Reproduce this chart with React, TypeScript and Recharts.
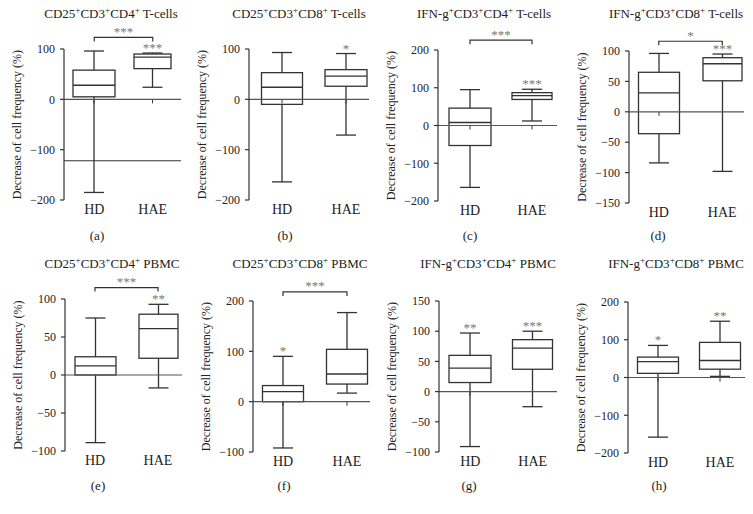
import React from 'react';
import { ComposedChart, Bar, XAxis, YAxis, ReferenceLine } from 'recharts';

const FONT = "'Liberation Serif', 'Times New Roman', serif";

// ---------------- data ----------------
const categories = ['HD', 'HAE'];

const titles = [
  'CD25⁺CD3⁺CD4⁺ T-cells',
  'CD25⁺CD3⁺CD8⁺ T-cells',
  'IFN-g⁺CD3⁺CD4⁺ T-cells',
  'IFN-g⁺CD3⁺CD8⁺ T-cells',
  'CD25⁺CD3⁺CD4⁺ PBMC',
  'CD25⁺CD3⁺CD8⁺ PBMC',
  'IFN-g⁺CD3⁺CD4⁺ PBMC',
  'IFN-g⁺CD3⁺CD8⁺ PBMC',
];

const panelLetters = ['(a)', '(b)', '(c)', '(d)', '(e)', '(f)', '(g)', '(h)'];
const yAxisTitle = 'Decrease of cell frequency (%)';

const yTicks = [
  [-200, -100, 0, 100],
  [-200, -100, 0, 100],
  [-200, -100, 0, 100, 200],
  [-150, -100, -50, 0, 50, 100],
  [-100, -50, 0, 50, 100],
  [-100, 0, 100, 200],
  [-100, -50, 0, 50, 100, 150],
  [-200, -100, 0, 100, 200],
];

// [min, q1, median, q3, max]
const hdBoxes = [
  [-185, 5, 28, 58, 96],
  [-164, -10, 24, 53, 93],
  [-164, -53, 8, 46, 95],
  [-84, -36, 31, 65, 96],
  [-89, 0, 12, 24, 75],
  [-92, 0, 20, 32, 90],
  [-91, 15, 39, 60, 97],
  [-158, 11, 42, 54, 85],
];

const haeBoxes = [
  [24, 61, 84, 90, 92],
  [-71, 26, 46, 59, 91],
  [12, 69, 79, 87, 96],
  [-98, 51, 79, 89, 95],
  [-17, 22, 61, 80, 93],
  [17, 35, 55, 104, 177],
  [-25, 37, 72, 86, 100],
  [3, 22, 45, 93, 149],
];

const boxStars = [
  ['', '***'],
  ['', '*'],
  ['', '***'],
  ['', '***'],
  ['', '**'],
  ['*', ''],
  ['**', '***'],
  ['*', '**'],
];

const bracketLevels = [123, null, 226, 116, 115, 218, null, null];
const bracketStars = ['***', '', '***', '*', '***', '***', '', ''];
const extraLines = [[-122], [], [], [], [], [], [], []];

// ---------------- layout (style only) ----------------
const layout = [
  { rowTop: 0, axisX: 64, top: 49, bottom: 200, right: 181, padL: 1, padR: -1, boxW: [42, 37], titleX: 111, letterX: 97 },
  { rowTop: 0, axisX: 249, top: 49, bottom: 200, right: 369, padL: 1, padR: -9, boxW: [41, 42], titleX: 299, letterX: 285 },
  { rowTop: 0, axisX: 438, top: 50, bottom: 201, right: 557, padL: 1, padR: -6, boxW: [42, 40], titleX: 484, letterX: 470 },
  { rowTop: 0, axisX: 629, top: 51, bottom: 203, right: 744, padL: -2, padR: -10, boxW: [41, 39], titleX: 676, letterX: 658 },
  { rowTop: 250, axisX: 65, top: 299, bottom: 451, right: 182, padL: -1.5, padR: -7.5, boxW: [41, 39], titleX: 112, letterX: 98 },
  { rowTop: 250, axisX: 253, top: 301, bottom: 452, right: 370, padL: -2, padR: -9, boxW: [41, 41], titleX: 300, letterX: 284 },
  { rowTop: 250, axisX: 439, top: 301, bottom: 452, right: 557, padL: 0, padR: -7, boxW: [42, 40], titleX: 488, letterX: 469 },
  { rowTop: 250, axisX: 628, top: 302, bottom: 453, right: 745, padL: -1, padR: -6, boxW: [41, 41], titleX: 676, letterX: 659 },
];

const LINE = '#333';
const STAR = '#777';

const fmt = (v: number) => (v < 0 ? '\u2212' + Math.abs(v) : String(v));

function BoxShape(props: any) {
  const { x, y, width, height, payload, boxW } = props;
  if (x == null || y == null || !payload) return null;
  const ppu = height / (payload.q3 - payload.q1);
  const py = (v: number) => y + (payload.q3 - v) * ppu;
  const cx = x + width / 2;
  const hw = boxW / 2;
  const cap = 10;
  const top = py(payload.max);
  const bot = py(payload.min);
  const zero = py(0);
  const sw = 1.3;
  return (
    <g>
      <line x1={cx} x2={cx} y1={top} y2={y} stroke={LINE} strokeWidth={sw} />
      <line x1={cx} x2={cx} y1={y + height} y2={bot} stroke={LINE} strokeWidth={sw} />
      <line x1={cx - cap} x2={cx + cap} y1={top} y2={top} stroke={LINE} strokeWidth={sw} />
      <line x1={cx - cap} x2={cx + cap} y1={bot} y2={bot} stroke={LINE} strokeWidth={sw} />
      <rect x={cx - hw} y={y} width={boxW} height={height} fill="none" stroke={LINE} strokeWidth={sw} />
      <line x1={cx - hw} x2={cx + hw} y1={py(payload.med)} y2={py(payload.med)} stroke={LINE} strokeWidth={sw} />
      <line x1={cx} x2={cx} y1={zero} y2={zero + 4} stroke={LINE} strokeWidth={1} />
      {payload.star ? (
        <text x={cx} y={top - 1} textAnchor="middle" fontSize={13} style={{ fontFamily: FONT }} fill={STAR}>
          {payload.star}
        </text>
      ) : null}
    </g>
  );
}

function Bracket(props: any) {
  const { x1, y1, x2, stars } = props;
  if (x1 == null || y1 == null) return null;
  return (
    <g>
      <path d={`M${x1},${y1 + 4}V${y1}H${x2}V${y1 + 4}`} fill="none" stroke={LINE} strokeWidth={1.2} />
      <text x={(x1 + x2) / 2} y={y1 - 1.5} textAnchor="middle" fontSize={13} style={{ fontFamily: FONT }} fill={STAR}>
        {stars}
      </text>
    </g>
  );
}

function Title({ text }: { text: string }) {
  const parts = text.split('⁺');
  return (
    <>
      {parts.map((p, k) => (
        <React.Fragment key={k}>
          {p}
          {k < parts.length - 1 ? <sup style={{ fontSize: '0.7em', lineHeight: 0 }}>+</sup> : null}
        </React.Fragment>
      ))}
    </>
  );
}

function Panel({ i }: { i: number }) {
  const L = layout[i];
  const data = categories.map((name, k) => {
    const s = (k === 0 ? hdBoxes : haeBoxes)[i];
    return { name, min: s[0], q1: s[1], med: s[2], q3: s[3], max: s[4], star: boxStars[i][k] };
  });
  const ticks = yTicks[i];
  const lo = ticks[0];
  const hi = ticks[ticks.length - 1];
  const width = L.right - L.axisX + 64 + 6;
  const height = L.bottom - L.rowTop + 30;
  const bl = bracketLevels[i];
  return (
    <>
      <div style={{ position: 'absolute', left: L.axisX - 64, top: L.rowTop, fontFamily: FONT }}>
        <ComposedChart
          width={width}
          height={height}
          data={data}
          style={{ fontFamily: FONT }}
          margin={{ top: L.top - L.rowTop, right: 6, bottom: 0, left: 0 }}
        >
          <XAxis
            dataKey="name"
            axisLine={false}
            tickLine={false}
            tickSize={0}
            tickMargin={4}
            height={30}
            interval={0}
            padding={{ left: L.padL, right: L.padR }}
            tick={{ fontSize: 14, fill: '#222' }}
          />
          <YAxis
            type="number"
            domain={[lo, hi]}
            ticks={ticks}
            interval={0}
            width={64}
            tickSize={4}
            tickMargin={5}
            axisLine={{ stroke: LINE, strokeWidth: 1.2 }}
            tickLine={{ stroke: LINE, strokeWidth: 1.2 }}
            tick={{ fontSize: 12, fill: '#222' }}
            tickFormatter={fmt}
            label={{
              value: yAxisTitle,
              angle: -90,
              position: 'insideLeft',
              offset: 17,
              style: { textAnchor: 'middle', fontSize: 12, fontFamily: FONT, fill: '#222' },
            }}
          />
          <ReferenceLine y={0} stroke="#555" strokeWidth={1.2} />
          {extraLines[i].map((v, k) => (
            <ReferenceLine key={k} y={v} stroke={LINE} strokeWidth={1.2} />
          ))}
          <Bar
            dataKey={(d: any) => [d.q1, d.q3]}
            isAnimationActive={false}
            barSize={40}
            shape={(p: any) => <BoxShape {...p} boxW={L.boxW[p.index]} />}
          />
          {bl != null ? (
            <ReferenceLine
              segment={[
                { x: categories[0], y: bl },
                { x: categories[1], y: bl },
              ]}
              ifOverflow="visible"
              shape={(p: any) => <Bracket {...p} stars={bracketStars[i]} />}
            />
          ) : null}
        </ComposedChart>
      </div>
      <div
        style={{
          position: 'absolute',
          left: L.titleX - 100,
          top: L.rowTop + 6,
          width: 200,
          textAlign: 'center',
          fontFamily: FONT,
          fontSize: 13,
          lineHeight: '15px',
          color: '#222',
          whiteSpace: 'nowrap',
        }}
      >
        <Title text={titles[i]} />
      </div>
      <div
        style={{
          position: 'absolute',
          left: L.letterX - 30,
          top: L.rowTop + 228,
          width: 60,
          textAlign: 'center',
          fontFamily: FONT,
          fontSize: 13,
          lineHeight: '15px',
          color: '#222',
        }}
      >
        {panelLetters[i]}
      </div>
    </>
  );
}

export default function App() {
  return (
    <div style={{ position: 'absolute', left: 0, top: 0, width: 753, height: 514, background: '#fff', overflow: 'hidden', fontFamily: FONT }}>
      {titles.map((_, i) => (
        <Panel key={i} i={i} />
      ))}
    </div>
  );
}
